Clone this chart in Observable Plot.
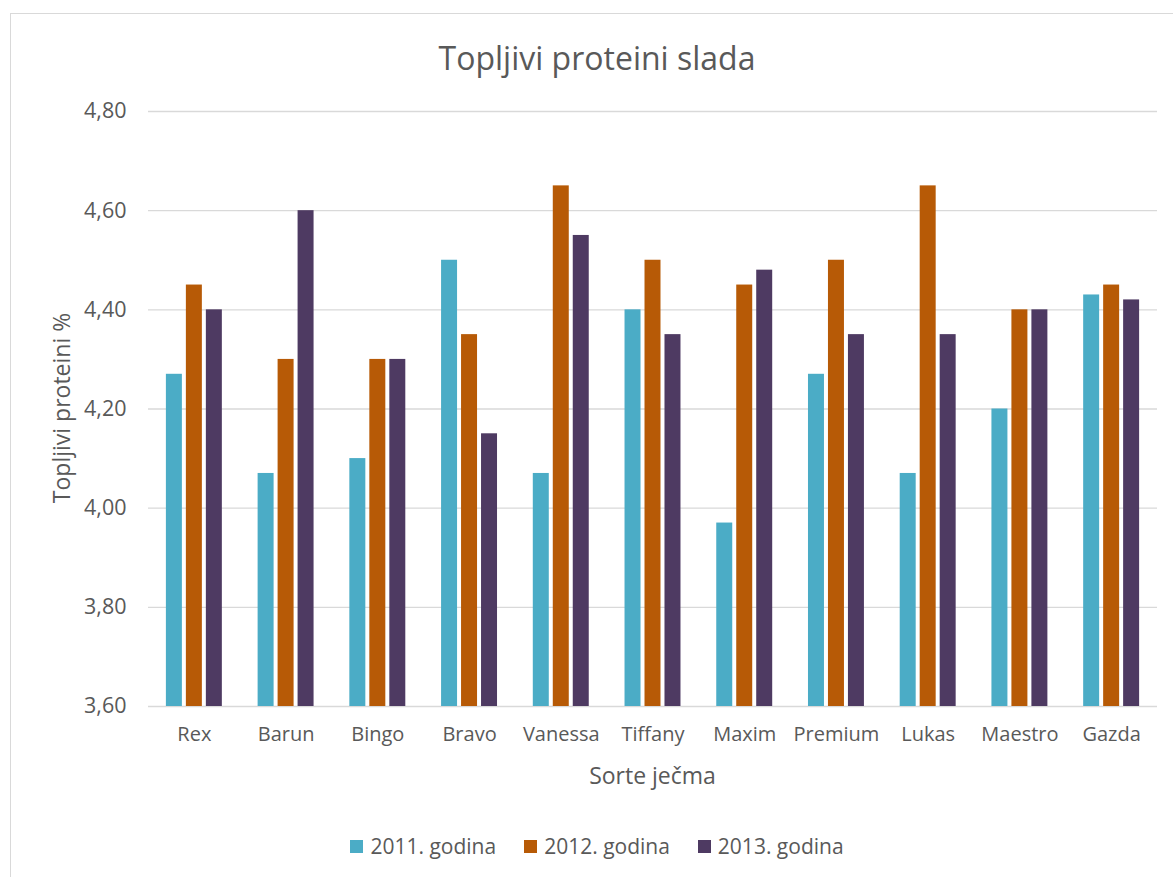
<!DOCTYPE html>
<html>
<head>
<meta charset="utf-8">
<script src="https://cdn.jsdelivr.net/npm/d3@7"></script>
<script src="https://cdn.jsdelivr.net/npm/@observablehq/plot@0.6"></script>
<style>
  html, body { margin: 0; padding: 0; background: #fff; overflow: hidden; }
  #wrap { position: relative; width: 1173px; height: 877px; font-family: "Open Sans", sans-serif; color: #595959; }
  #frame { position: absolute; left: 10px; top: 13px; width: 1200px; height: 900px; border: 1.5px solid #d9d9d9; box-sizing: border-box; }
  #title { position: absolute; left: 10px; width: 1174px; top: 36px; text-align: center; font-size: 32px; line-height: 44px; }
  #xlabel { position: absolute; left: 148px; width: 1009px; top: 759px; text-align: center; font-size: 23px; line-height: 32px; }
  #ylabel { position: absolute; left: 61px; top: 408px; transform: translate(-50%, -50%) rotate(-90deg); white-space: nowrap; font-size: 23px; line-height: 30px; }
  #legend { position: absolute; left: 10px; width: 1174px; top: 831px; display: flex; justify-content: center; gap: 28px; font-size: 21px; line-height: 30px; }
  #legend span.item { display: inline-flex; align-items: center; }
  #legend span.sw { display: inline-block; width: 13px; height: 13px; margin-right: 7px; }
  .layer { position: absolute; left: 0; top: 0; }
</style>
</head>
<body>
<div id="wrap">
  <div id="frame"></div>
  <div id="grid" class="layer"></div>
  <div id="chart" class="layer"></div>
  <div id="title">Topljivi proteini slada</div>
  <div id="ylabel">Topljivi proteini %</div>
  <div id="xlabel">Sorte ječma</div>
  <div id="legend"></div>
</div>
<script>
const categories = ["Rex", "Barun", "Bingo", "Bravo", "Vanessa", "Tiffany", "Maxim", "Premium", "Lukas", "Maestro", "Gazda"];
const series = ["2011. godina", "2012. godina", "2013. godina"];
const values2011 = [4.27, 4.07, 4.10, 4.50, 4.07, 4.40, 3.97, 4.27, 4.07, 4.20, 4.43];
const values2012 = [4.45, 4.30, 4.30, 4.35, 4.65, 4.50, 4.45, 4.50, 4.65, 4.40, 4.45];
const values2013 = [4.40, 4.60, 4.30, 4.15, 4.55, 4.35, 4.48, 4.35, 4.35, 4.40, 4.42];
const colors = ["#4bacc6", "#b75a06", "#4e3a62"];
const yTicks = [3.6, 3.8, 4.0, 4.2, 4.4, 4.6, 4.8];
const yMin = 3.6, yMax = 4.8;

const allValues = [values2011, values2012, values2013];
const data = [];
categories.forEach((c, i) => {
  series.forEach((s, j) => data.push({ cat: c, series: s, value: allValues[j][i] }));
});

const fmt = d => d.toFixed(2).replace(".", ",");

const common = {
  width: 1173,
  height: 877,
  marginLeft: 148,
  marginRight: 16,
  marginTop: 111,
  marginBottom: 171,
  style: { fontFamily: "Open Sans, sans-serif", fontSize: "20px", color: "#595959", background: "transparent", overflow: "visible" }
};

const grid = Plot.plot({
  ...common,
  y: { domain: [yMin, yMax], label: null },
  marks: [
    Plot.ruleY(yTicks, { stroke: "#d9d9d9", strokeWidth: 1.3 }),
    Plot.axisY({ ticks: yTicks, tickSize: 0, tickPadding: 22, tickFormat: fmt, label: null, fill: "#595959", fontSize: 21.5 })
  ]
});
document.getElementById("grid").appendChild(grid);

const chart = Plot.plot({
  ...common,
  y: { domain: [yMin, yMax], label: null, axis: null },
  fx: { domain: categories, paddingInner: 0.39, paddingOuter: 0.195, round: false, label: null },
  x: { domain: series, paddingInner: 0.2, paddingOuter: 0, round: false, axis: null },
  color: { domain: series, range: colors },
  marks: [
    Plot.axisFx({ anchor: "bottom", tickSize: 0, tickPadding: 20, label: null, fill: "#595959" }),
    Plot.rectY(data, { fx: "cat", x: "series", y1: () => yMin, y2: "value", fill: "series" })
  ]
});
document.getElementById("chart").appendChild(chart);

const legend = document.getElementById("legend");
series.forEach((s, j) => {
  const item = document.createElement("span");
  item.className = "item";
  const sw = document.createElement("span");
  sw.className = "sw";
  sw.style.background = colors[j];
  item.appendChild(sw);
  item.appendChild(document.createTextNode(s));
  legend.appendChild(item);
});
</script>
</body>
</html>
